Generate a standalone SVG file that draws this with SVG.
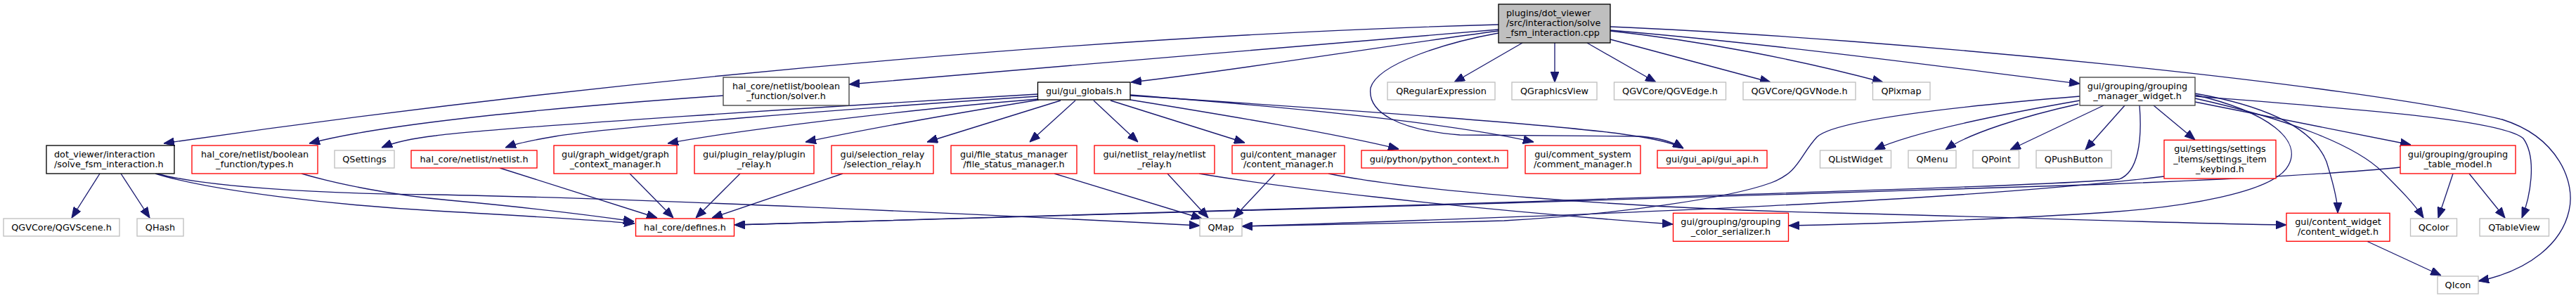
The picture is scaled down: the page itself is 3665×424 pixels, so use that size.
<svg xmlns="http://www.w3.org/2000/svg" width="3665" height="424" viewBox="0 0 3665 424">
<defs>
<marker id="ah" markerUnits="userSpaceOnUse" markerWidth="15" markerHeight="12" viewBox="0 0 14 11" refX="14" refY="5.5" orient="auto"><path d="M0,0 L14,5.5 L0,11 Z" fill="#191970" stroke="#191970" stroke-width="1"/></marker>
</defs>
<style>
.e{fill:none;stroke:#191970;stroke-width:1.33;marker-end:url(#ah)}
rect{fill:#fff;stroke-width:1.33}
.k{stroke:#000}
.d{stroke:#404040}
.r{stroke:#ff0000}
.g{stroke:#bfbfbf}
.root{fill:#bfbfbf;stroke:#000}
text{font-family:"DejaVu Sans","Liberation Sans",sans-serif;font-size:12.8px;fill:#000;text-anchor:middle}
.l{text-anchor:start}
</style>
<rect width="3665" height="424" fill="#fff" stroke="none"/>
<g id="edges">
<path class="e" d="M2132,35 C1650,48 950,100 233,204"/>
<path class="e" d="M2132,42 C1900,60 1500,96 1208,120"/>
<path class="e" d="M2132,44 C1950,68 1760,100 1609,117"/>
<path class="e" d="M2166,61 L2069,117"/>
<path class="e" d="M2212,61 L2212,117"/>
<path class="e" d="M2258,61 L2356,117"/>
<path class="e" d="M2291,56 L2519,117"/>
<path class="e" d="M2291,44 C2420,58 2560,85 2679,117"/>
<path class="e" d="M2291,43 C2550,65 2800,100 2959,119"/>
<path class="e" d="M2291,38 C2700,55 3350,120 3560,170 C3640,195 3665,260 3655,300 C3645,345 3600,385 3526,400"/>
<path class="e" d="M2132,47 C2060,60 1960,90 1950,125 C1945,160 1990,185 2077,192 L2334,194 C2360,196 2382,203 2395,211"/>
<path class="e" d="M1476,134 C1200,150 700,182 620,193 C585,197 560,203 543,210"/>
<path class="e" d="M1477,137 C1200,155 860,182 790,194 C760,199 735,204 719,210"/>
<path class="e" d="M1477,141 C1300,155 1050,185 950,204"/>
<path class="e" d="M1478,142 C1380,158 1240,182 1146,202"/>
<path class="e" d="M1509,143 L1319,202"/>
<path class="e" d="M1530,143 L1465,202"/>
<path class="e" d="M1556,143 L1619,202"/>
<path class="e" d="M1580,143 L1771,203"/>
<path class="e" d="M1608,142 C1750,165 1900,190 1990,212"/>
<path class="e" d="M1608,135 C1800,150 2050,172 2182,202"/>
<path class="e" d="M1608,136 C1900,155 2250,180 2330,194 C2360,199 2382,204 2395,211"/>
<path class="e" d="M1029,136 C800,152 550,175 440,204"/>
<path class="e" d="M142,247 L102,310"/>
<path class="e" d="M172,247 L213,310"/>
<path class="e" d="M221,247 C300,272 480,292 620,300 C760,308 860,314 903,318"/>
<path class="e" d="M223,247 C290,265 450,276 620,277 C900,282 1400,305 1707,321"/>
<path class="e" d="M429,247 C480,262 560,278 640,285 C760,296 860,309 902,315"/>
<path class="e" d="M711,239 L935,310"/>
<path class="e" d="M896,247 L958,310"/>
<path class="e" d="M1053,247 L990,310"/>
<path class="e" d="M1199,247 L1013,310"/>
<path class="e" d="M3044,150 C3048,200 3042,245 3015,255 C2900,265 2500,275 2140,288 C1700,300 1300,314 1045,320"/>
<path class="e" d="M3415,238 C3300,250 3100,258 3000,262 C2700,272 2300,283 2140,289 C1700,302 1300,316 1045,320"/>
<path class="e" d="M3079,251 C2800,285 2300,305 1767,322"/>
<path class="e" d="M2959,137 C2800,150 2610,170 2585,195 C2560,222 2560,245 2520,260 C2460,282 2300,305 2140,314 C2000,318 1850,321 1767,322"/>
<path class="e" d="M3123,135 C3230,160 3275,200 3256,235 C3236,275 3100,295 3000,302 C2850,312 2650,319 2545,321"/>
<path class="e" d="M1890,247 C2000,270 2300,296 2610,303 C2900,310 3100,318 3253,320"/>
<path class="e" d="M1706,247 C1800,263 2050,295 2380,319"/>
<path class="e" d="M1814,247 L1755,310"/>
<path class="e" d="M1661,247 L1719,310"/>
<path class="e" d="M1500,247 L1710,311"/>
<path class="e" d="M2959,143 C2850,162 2720,188 2667,213"/>
<path class="e" d="M2957,148 C2880,165 2800,190 2768,213"/>
<path class="e" d="M2993,150 L2860,213"/>
<path class="e" d="M3023,150 L2967,213"/>
<path class="e" d="M3064,150 L3123,199"/>
<path class="e" d="M3123,145 L3430,206"/>
<path class="e" d="M3123,137 C3350,155 3560,170 3590,197 C3610,225 3600,280 3588,310"/>
<path class="e" d="M3123,140 C3250,168 3350,205 3390,245 C3415,270 3435,290 3448,310"/>
<path class="e" d="M3123,133 C3220,150 3290,180 3310,230 C3320,262 3326,285 3326,303"/>
<path class="e" d="M3490,247 L3469,310"/>
<path class="e" d="M3513,247 L3564,310"/>
<path class="e" d="M3367,343 L3473,392"/>
</g>
<g id="n_main"><rect class="root" x="2132" y="6" width="159" height="55"/><text class="l" x="2143" y="23">plugins/dot_viewer</text><text class="l" x="2143" y="37">/src/interaction/solve</text><text class="l" x="2143" y="51">_fsm_interaction.cpp</text></g>
<g id="n_dvh"><rect class="k" x="66" y="207" width="182" height="40"/><text class="l" x="77" y="223.5">dot_viewer/interaction</text><text class="l" x="77" y="237.5">/solve_fsm_interaction.h</text></g>
<g id="n_qgvscene"><rect class="g" x="5" y="311" width="165" height="25"/><text x="87.5" y="327.5">QGVCore/QGVScene.h</text></g>
<g id="n_qhash"><rect class="g" x="195" y="311" width="66" height="25"/><text x="228" y="327.5">QHash</text></g>
<g id="n_types"><rect class="r" x="273" y="207" width="179" height="40"/><text x="362.5" y="223.5">hal_core/netlist/boolean</text><text x="362.5" y="237.5">_function/types.h</text></g>
<g id="n_qsettings"><rect class="g" x="476" y="214" width="85" height="25"/><text x="518.5" y="230.5">QSettings</text></g>
<g id="n_netlist"><rect class="r" x="585" y="214" width="179" height="25"/><text x="674.5" y="230.5">hal_core/netlist/netlist.h</text></g>
<g id="n_solver"><rect class="d" x="1029" y="110" width="179" height="40"/><text x="1118.5" y="126.5">hal_core/netlist/boolean</text><text x="1118.5" y="140.5">_function/solver.h</text></g>
<g id="n_gcm"><rect class="r" x="788" y="207" width="175" height="40"/><text x="875.5" y="223.5">gui/graph_widget/graph</text><text x="875.5" y="237.5">_context_manager.h</text></g>
<g id="n_plugin"><rect class="r" x="988" y="207" width="170" height="40"/><text x="1073" y="223.5">gui/plugin_relay/plugin</text><text x="1073" y="237.5">_relay.h</text></g>
<g id="n_selection"><rect class="r" x="1183" y="207" width="145" height="40"/><text x="1255.5" y="223.5">gui/selection_relay</text><text x="1255.5" y="237.5">/selection_relay.h</text></g>
<g id="n_defines"><rect class="r" x="904.5" y="311" width="140" height="25"/><text x="974.5" y="327.5">hal_core/defines.h</text></g>
<g id="n_globals"><rect class="k" x="1476.5" y="117" width="131.5" height="25"/><text x="1542" y="133.5">gui/gui_globals.h</text></g>
<g id="n_fsm"><rect class="r" x="1353" y="207" width="179" height="40"/><text x="1442.5" y="223.5">gui/file_status_manager</text><text x="1442.5" y="237.5">/file_status_manager.h</text></g>
<g id="n_nrelay"><rect class="r" x="1557" y="207" width="171" height="40"/><text x="1642.5" y="223.5">gui/netlist_relay/netlist</text><text x="1642.5" y="237.5">_relay.h</text></g>
<g id="n_cmgr"><rect class="r" x="1753" y="207" width="160" height="40"/><text x="1833" y="223.5">gui/content_manager</text><text x="1833" y="237.5">/content_manager.h</text></g>
<g id="n_qmap"><rect class="g" x="1707" y="311" width="60" height="25"/><text x="1737" y="327.5">QMap</text></g>
<g id="n_qregex"><rect class="g" x="1974" y="117" width="153" height="25"/><text x="2050.5" y="133.5">QRegularExpression</text></g>
<g id="n_qgview"><rect class="g" x="2151" y="117" width="121" height="25"/><text x="2211.5" y="133.5">QGraphicsView</text></g>
<g id="n_qgvedge"><rect class="g" x="2296.5" y="117" width="159" height="25"/><text x="2376" y="133.5">QGVCore/QGVEdge.h</text></g>
<g id="n_python"><rect class="r" x="1937" y="214" width="208" height="25"/><text x="2041" y="230.5">gui/python/python_context.h</text></g>
<g id="n_comment"><rect class="r" x="2170" y="207" width="164" height="40"/><text x="2252" y="223.5">gui/comment_system</text><text x="2252" y="237.5">/comment_manager.h</text></g>
<g id="n_guiapi"><rect class="r" x="2358" y="214" width="156" height="25"/><text x="2436" y="230.5">gui/gui_api/gui_api.h</text></g>
<g id="n_colorser"><rect class="r" x="2380.5" y="303.3" width="164" height="40"/><text x="2462.5" y="320">gui/grouping/grouping</text><text x="2462.5" y="334">_color_serializer.h</text></g>
<g id="n_qgvnode"><rect class="g" x="2480" y="117" width="160" height="25"/><text x="2560" y="133.5">QGVCore/QGVNode.h</text></g>
<g id="n_qpixmap"><rect class="g" x="2664.5" y="117" width="81.5" height="25"/><text x="2705" y="133.5">QPixmap</text></g>
<g id="n_mgr"><rect class="d" x="2959" y="110" width="164" height="40"/><text x="3041" y="126.5">gui/grouping/grouping</text><text x="3041" y="140.5">_manager_widget.h</text></g>
<g id="n_qlist"><rect class="g" x="2589.5" y="214" width="101" height="25"/><text x="2640" y="230.5">QListWidget</text></g>
<g id="n_qmenu"><rect class="g" x="2715" y="214" width="68" height="25"/><text x="2749" y="230.5">QMenu</text></g>
<g id="n_qpoint"><rect class="g" x="2807" y="214" width="65.5" height="25"/><text x="2840" y="230.5">QPoint</text></g>
<g id="n_qpush"><rect class="g" x="2897" y="214" width="107" height="25"/><text x="2950.5" y="230.5">QPushButton</text></g>
<g id="n_keybind"><rect class="r" x="3079" y="199.3" width="159" height="54.7"/><text x="3158.5" y="216">gui/settings/settings</text><text x="3158.5" y="230.5">_items/settings_item</text><text x="3158.5" y="245">_keybind.h</text></g>
<g id="n_tmodel"><rect class="r" x="3415" y="207" width="164" height="40"/><text x="3497" y="223.5">gui/grouping/grouping</text><text x="3497" y="237.5">_table_model.h</text></g>
<g id="n_cwidget"><rect class="r" x="3253" y="303.3" width="147" height="40"/><text x="3326.5" y="320">gui/content_widget</text><text x="3326.5" y="334">/content_widget.h</text></g>
<g id="n_qcolor"><rect class="g" x="3429.5" y="311" width="66" height="25"/><text x="3462.5" y="327.5">QColor</text></g>
<g id="n_qtable"><rect class="g" x="3528" y="311" width="98.5" height="25"/><text x="3577" y="327.5">QTableView</text></g>
<g id="n_qicon"><rect class="g" x="3468" y="393" width="58" height="25"/><text x="3497" y="409.5">QIcon</text></g>
</svg>
